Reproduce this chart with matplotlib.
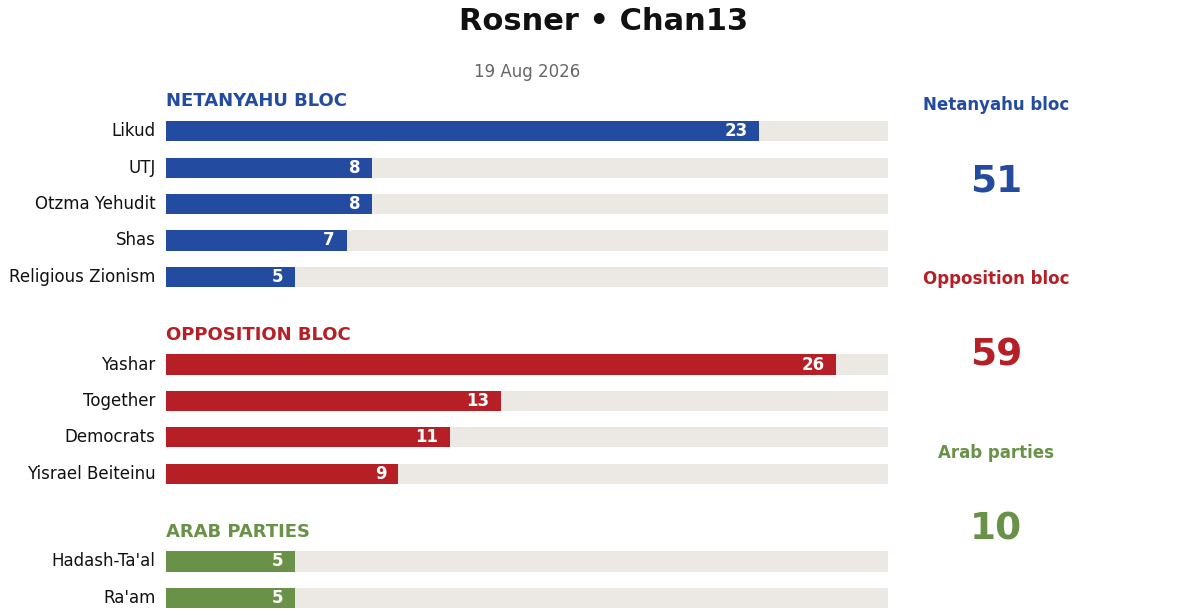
import matplotlib.pyplot as plt

plt.rcParams["font.family"] = ["DejaVu Sans"]

# seats per party, grouped by bloc
bloc_headers = ["NETANYAHU BLOC", "OPPOSITION BLOC", "ARAB PARTIES"]
bloc_names = ["Netanyahu bloc", "Opposition bloc", "Arab parties"]
bloc_colors = ["#234B9F", "#B51F25", "#6A9148"]

netanyahu_parties = ["Likud", "UTJ", "Otzma Yehudit", "Shas", "Religious Zionism"]
netanyahu_seats = [23, 8, 8, 7, 5]
opposition_parties = ["Yashar", "Together", "Democrats", "Yisrael Beiteinu"]
opposition_seats = [26, 13, 11, 9]
arab_parties = ["Hadash-Ta'al", "Ra'am"]
arab_seats = [5, 5]

groups = [
    (netanyahu_parties, netanyahu_seats),
    (opposition_parties, opposition_seats),
    (arab_parties, arab_seats),
]
scale_max = 28
track_color = "#ECE9E5"

fig = plt.figure(figsize=(11.99, 6.15), dpi=100)
ax = fig.add_axes([166 / 1199, 0.004, (888 - 166) / 1199, 0.86])

start = 0.0
for (parties, seats), header, color in zip(groups, bloc_headers, bloc_colors):
    ys = [start + i for i in range(len(parties))]
    ax.barh(ys, [scale_max] * len(ys), height=0.55, color=track_color)
    ax.barh(ys, seats, height=0.55, color=color)
    for y, name, s in zip(ys, parties, seats):
        ax.text(-0.4, y, name, ha="right", va="center", fontsize=12, color="#111111")
        ax.text(s - 0.45, y, str(s), ha="right", va="center", fontsize=12,
                fontweight="bold", color="white")
    ax.text(0, start - 0.82, header, ha="left", va="center", fontsize=13,
            fontweight="bold", color=color)
    start = ys[-1] + 2.4

ax.set_xlim(0, scale_max)
ax.set_ylim(13.2, -1.3)
ax.axis("off")

# bloc totals on the right
label_y = [105, 279, 453]
total_y = [182, 356, 530]
for (parties, seats), name, color, ly, ty in zip(groups, bloc_names, bloc_colors, label_y, total_y):
    fig.text(996 / 1199, 1 - ly / 615, name, ha="center", va="center",
             fontsize=12, fontweight="bold", color=color)
    fig.text(996 / 1199, 1 - ty / 615, str(sum(seats)), ha="center", va="center",
             fontsize=27, fontweight="bold", color=color)

fig.text(604 / 1199, 1 - 22 / 615, "Rosner • Chan13", ha="center", va="center",
         fontsize=22, fontweight="bold", color="#111111")
fig.text(527 / 1199, 1 - 72 / 615, "19 Aug 2026", ha="center", va="center",
         fontsize=12, color="#666666")

fig.savefig("out.png", dpi=100)
